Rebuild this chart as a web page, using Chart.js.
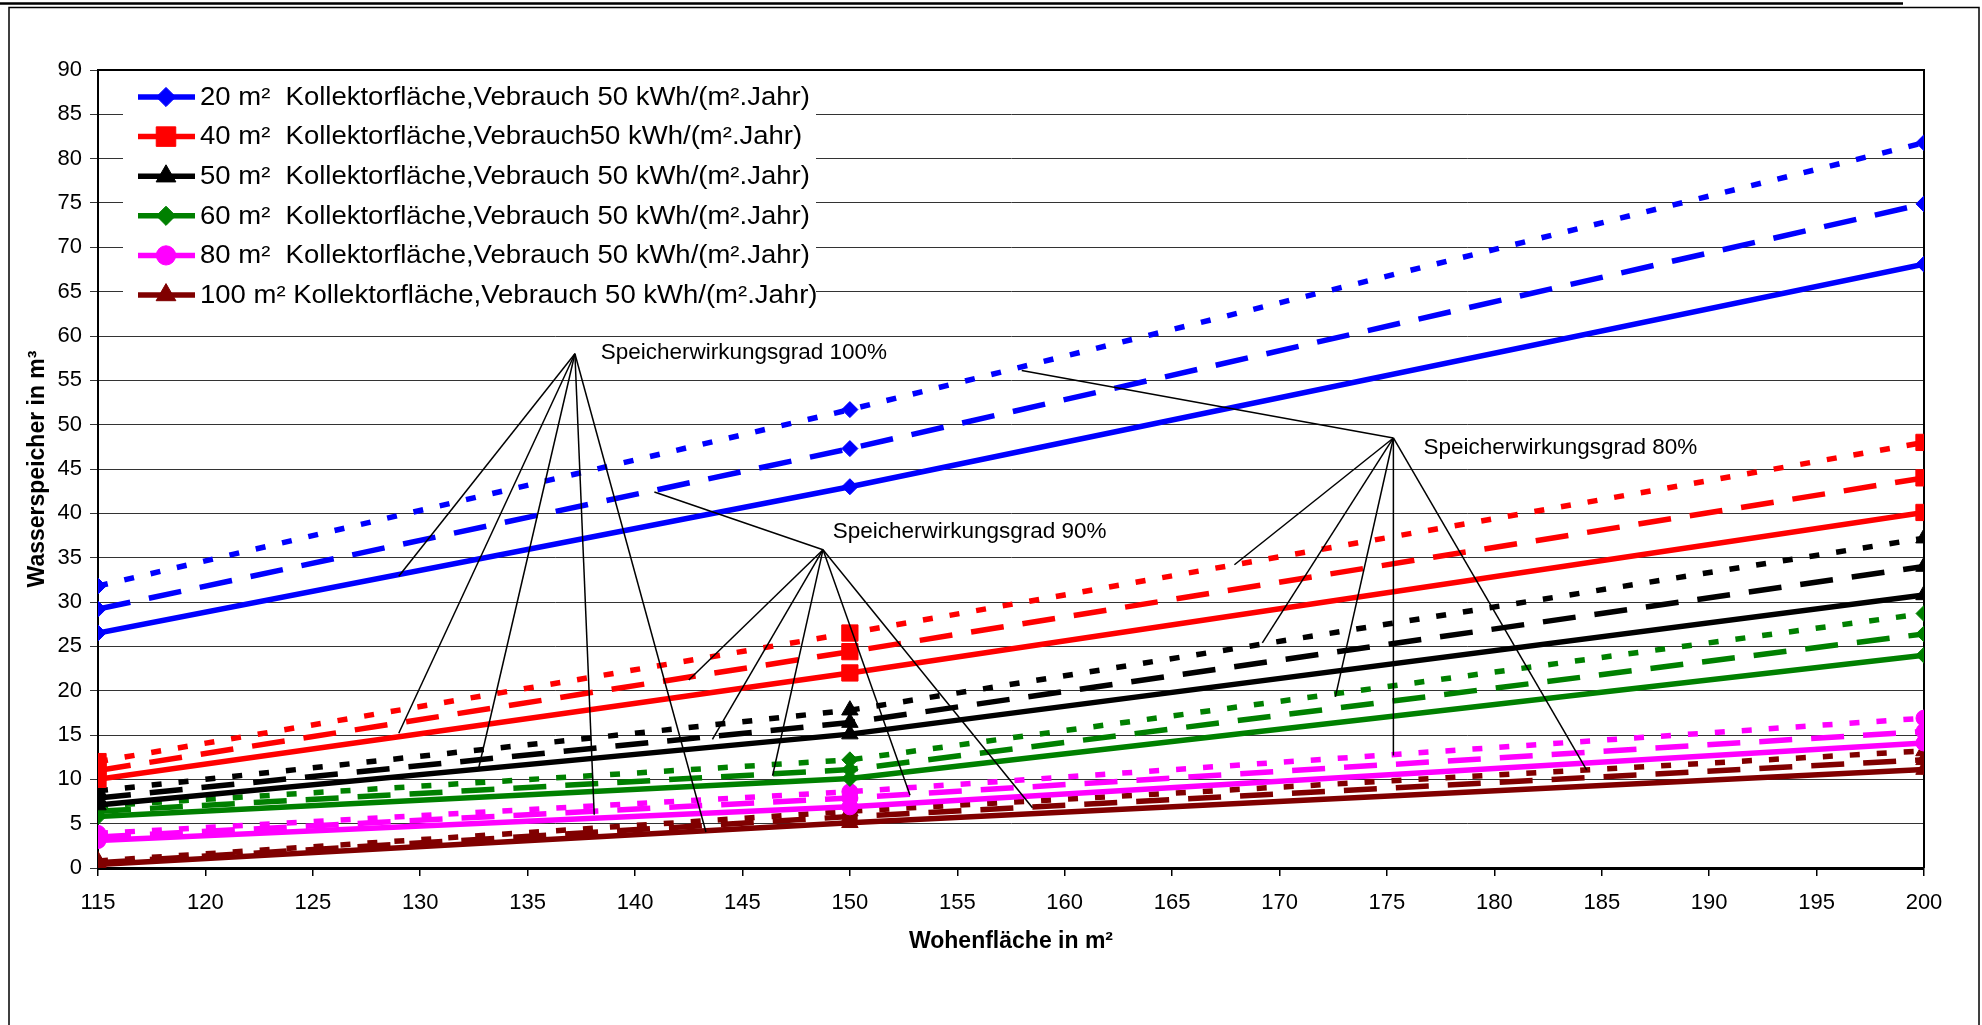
<!DOCTYPE html>
<html>
<head>
<meta charset="utf-8">
<script src="https://cdn.jsdelivr.net/npm/chart.js@4.4.0/dist/chart.umd.min.js"></script>
<style>
    html, body { margin: 0; padding: 0; background: #fff; }
    #wrap { width: 1982px; height: 1025px; }
</style>
</head>
<body>
<div id="wrap"><canvas id="chart" width="1982" height="1025"></canvas></div>
<script>
// Wohnfläche (x-Achse)
const wohnflaeche = [115, 150, 200];
const xTickWerte = [115, 120, 125, 130, 135, 140, 145, 150, 155, 160, 165, 170, 175, 180, 185, 190, 195, 200];
const yTickWerte = [0, 5, 10, 15, 20, 25, 30, 35, 40, 45, 50, 55, 60, 65, 70, 75, 80, 85, 90];

// Wasserspeicher in m³ – je Kollektorfläche: Wirkungsgrad 100% / 90% / 80%
const blau100 = [26.5, 43.0, 68.1];
const blau90 = [29.2, 47.3, 74.9];
const blau80 = [31.8, 51.7, 81.8];
const rot100 = [10.0, 22.0, 40.1];
const rot90 = [11.0, 24.4, 44.0];
const rot80 = [12.0, 26.5, 48.0];
const schwarz100 = [7.1, 15.1, 30.8];
const schwarz90 = [7.9, 16.4, 34.0];
const schwarz80 = [8.7, 17.8, 37.2];
const gruen100 = [5.8, 10.1, 24.0];
const gruen90 = [6.4, 11.1, 26.4];
const gruen80 = [7.0, 12.2, 28.7];
const rosa100 = [3.1, 6.9, 14.1];
const rosa90 = [3.5, 7.9, 15.4];
const rosa80 = [3.9, 8.6, 16.9];
const braun100 = [0.4, 5.1, 11.1];
const braun90 = [0.6, 5.8, 12.2];
const braun80 = [0.8, 6.4, 13.2];

const legendeTexte = [
    '20 m²  Kollektorfläche,Vebrauch 50 kWh/(m².Jahr)',
    '40 m²  Kollektorfläche,Vebrauch50 kWh/(m².Jahr)',
    '50 m²  Kollektorfläche,Vebrauch 50 kWh/(m².Jahr)',
    '60 m²  Kollektorfläche,Vebrauch 50 kWh/(m².Jahr)',
    '80 m²  Kollektorfläche,Vebrauch 50 kWh/(m².Jahr)',
    '100 m² Kollektorfläche,Vebrauch 50 kWh/(m².Jahr)'
];

// Beschriftungen mit Hinweislinien (in Datenkoordinaten)
const hinweise = [
    { text: 'Speicherwirkungsgrad 100%', pos: [138.4, 58.1], spitze: [137.2, 58.0],
      ziele: [[129.0, 32.9], [129.0, 15.2], [132.7, 11.05], [138.1, 6.0], [143.3, 4.06]] },
    { text: 'Speicherwirkungsgrad 90%', pos: [149.2, 37.9], spitze: [148.75, 35.9],
      ziele: [[140.9, 42.4], [142.5, 21.2], [143.6, 14.5], [146.4, 10.4], [152.8, 8.2], [158.5, 6.8]] },
    { text: 'Speicherwirkungsgrad 80%', pos: [176.7, 47.4], spitze: [175.3, 48.5],
      ziele: [[158.0, 56.1], [167.9, 34.2], [169.2, 25.4], [172.6, 19.3], [175.3, 12.7], [184.3, 11.05]] }
];

const FONT = '"Liberation Sans", Arial, sans-serif';
const STRICHE = { voll: [], lang: [33, 19], punkt: [10, 17] };

function serie(label, werte, farbe, stil, radius, strich) {
    return {
        label,
        data: werte.map((y, i) => ({ x: wohnflaeche[i], y })),
        borderColor: farbe,
        backgroundColor: farbe,
        borderWidth: 5.5,
        borderDash: STRICHE[strich],
        borderCapStyle: 'butt',
        tension: 0,
        pointStyle: stil,
        pointRadius: radius,
        pointHoverRadius: radius,
        pointBorderWidth: 1,
        pointBackgroundColor: farbe,
        pointBorderColor: farbe
    };
}

const gruppen = [
    ['20', [blau100, blau90, blau80], '#0000ff', 'rectRot', 8],
    ['40', [rot100, rot90, rot80], '#ff0000', 'rect', 11.5],
    ['50', [schwarz100, schwarz90, schwarz80], '#000000', 'triangle', 9.5],
    ['60', [gruen100, gruen90, gruen80], '#008000', 'rectRot', 8],
    ['80', [rosa100, rosa90, rosa80], '#ff00ff', 'circle', 8],
    ['100', [braun100, braun90, braun80], '#800000', 'triangle', 9.5]
];

const datasets = [];
gruppen.forEach(([name, reihen, farbe, stil, r]) => {
    datasets.push(serie(name + ' m² 100%', reihen[0], farbe, stil, r, 'voll'));
    datasets.push(serie(name + ' m² 90%', reihen[1], farbe, stil, r, 'lang'));
    datasets.push(serie(name + ' m² 80%', reihen[2], farbe, stil, r, 'punkt'));
});

// Seitenrahmen und weißer Hintergrund
const rahmenPlugin = {
    id: 'rahmen',
    beforeDraw(chart) {
        const ctx = chart.ctx;
        ctx.save();
        ctx.fillStyle = '#fff';
        ctx.fillRect(0, 0, chart.width, chart.height);
        ctx.strokeStyle = '#000';
        ctx.lineWidth = 2.5;
        ctx.beginPath();
        ctx.moveTo(0, 3.5);
        ctx.lineTo(1903, 3.5);
        ctx.stroke();
        ctx.lineWidth = 1.5;
        ctx.strokeRect(9, 7.5, 1970, 1030);
        ctx.restore();
    },
    beforeDatasetsDraw(chart) {
        const { ctx, chartArea: ca } = chart;
        ctx.save();
        ctx.strokeStyle = '#000';
        ctx.lineWidth = 2;
        ctx.beginPath();
        ctx.moveTo(ca.left, ca.top);
        ctx.lineTo(ca.right, ca.top);
        ctx.lineTo(ca.right, ca.bottom);
        ctx.stroke();
        ctx.restore();
    }
};

// Legende im Diagrammbereich (Linie mit Marker)
const legendePlugin = {
    id: 'legende',
    afterDatasetsDraw(chart) {
        const { ctx, chartArea: ca } = chart;
        ctx.save();
        ctx.fillStyle = '#fff';
        ctx.fillRect(ca.left + 25, ca.top + 5, 693, 243);
        legendeTexte.forEach((t, i) => {
            const ds = chart.data.datasets[i * 3];
            const y = ca.top + 27 + i * 39.6;
            ctx.setLineDash([]);
            ctx.strokeStyle = ds.borderColor;
            ctx.fillStyle = ds.borderColor;
            ctx.lineWidth = 5.5;
            ctx.beginPath();
            ctx.moveTo(ca.left + 40, y);
            ctx.lineTo(ca.left + 97, y);
            ctx.stroke();
            ctx.lineWidth = 1;
            Chart.helpers.drawPoint(ctx, { pointStyle: ds.pointStyle, radius: ds.pointRadius * 1.2, rotation: 0, borderWidth: 1 }, ca.left + 68, y);
            ctx.fillStyle = '#000';
            ctx.font = '25px ' + FONT;
            ctx.textBaseline = 'middle';
            ctx.save();
            ctx.translate(ca.left + 102, y + 1);
            ctx.scale(1.1, 1);
            ctx.fillText(t, 0, 0);
            ctx.restore();
        });
        ctx.restore();
    }
};

// Hinweislinien und Texte
const hinweisPlugin = {
    id: 'hinweise',
    afterDatasetsDraw(chart) {
        const { ctx } = chart;
        const sx = chart.scales.x, sy = chart.scales.y;
        ctx.save();
        ctx.strokeStyle = '#000';
        ctx.lineWidth = 1.5;
        ctx.setLineDash([]);
        hinweise.forEach(h => {
            const px = sx.getPixelForValue(h.spitze[0]);
            const py = sy.getPixelForValue(h.spitze[1]);
            h.ziele.forEach(z => {
                ctx.beginPath();
                ctx.moveTo(px, py);
                ctx.lineTo(sx.getPixelForValue(z[0]), sy.getPixelForValue(z[1]));
                ctx.stroke();
            });
            ctx.fillStyle = '#000';
            ctx.font = '22.5px ' + FONT;
            ctx.textBaseline = 'middle';
            ctx.fillText(h.text, sx.getPixelForValue(h.pos[0]), sy.getPixelForValue(h.pos[1]));
        });
        ctx.restore();
    }
};

new Chart(document.getElementById('chart'), {
    type: 'line',
    data: { datasets },
    plugins: [rahmenPlugin, legendePlugin, hinweisPlugin],
    options: {
        responsive: false,
        animation: false,
        events: [],
        devicePixelRatio: 1,
        layout: { padding: { left: 0, top: 70, right: 58, bottom: 0 } },
        plugins: {
            legend: { display: false },
            tooltip: { enabled: false }
        },
        scales: {
            x: {
                type: 'linear',
                min: 115,
                max: 200,
                afterBuildTicks: s => { s.ticks = xTickWerte.map(v => ({ value: v })); },
                afterFit: s => { s.height = 157; },
                ticks: { color: '#000', font: { family: FONT, size: 22 }, padding: 14, maxRotation: 0, autoSkip: false },
                grid: { drawOnChartArea: false, color: '#000', tickLength: 8, lineWidth: 1.5 },
                border: { color: '#000', width: 3 },
                title: {
                    display: true,
                    text: 'Wohenfläche in m²',
                    color: '#000',
                    font: { family: FONT, size: 23, weight: 'bold' },
                    padding: { top: 0, bottom: 70 }
                }
            },
            y: {
                min: 0,
                max: 90,
                afterBuildTicks: s => { s.ticks = yTickWerte.map(v => ({ value: v })); },
                afterFit: s => { s.width = 98; },
                ticks: { color: '#000', font: { family: FONT, size: 22 }, padding: 8, autoSkip: false },
                grid: { color: '#333', lineWidth: 1, tickLength: 8 },
                border: { color: '#000', width: 2 },
                title: {
                    display: true,
                    text: 'Wasserspeicher in m³',
                    color: '#000',
                    font: { family: FONT, size: 23, weight: 'bold' },
                    padding: { top: 24, bottom: 0 }
                }
            }
        }
    }
});
</script>
</body>
</html>
